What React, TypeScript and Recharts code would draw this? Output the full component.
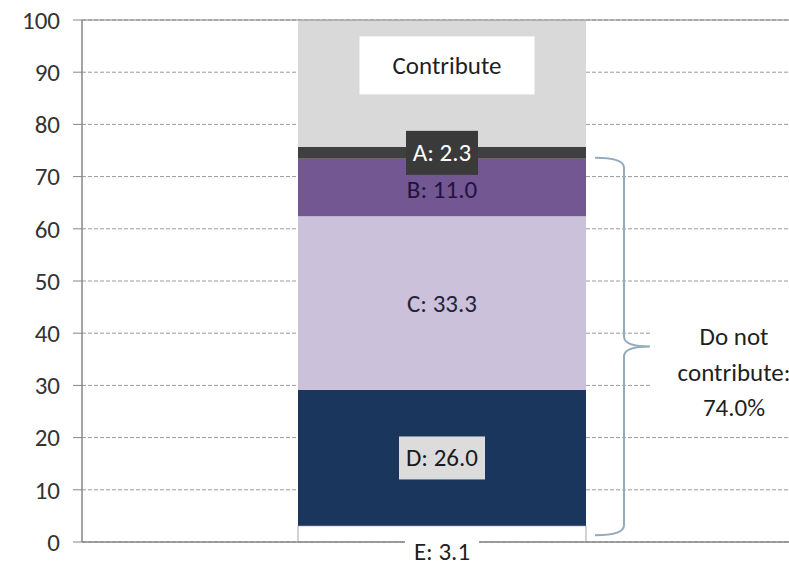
import { BarChart, Bar, XAxis, YAxis, CartesianGrid, ReferenceLine, ReferenceArea, LabelList } from "recharts"

const categories = [""]
const segments = ["E", "D", "C", "B", "A", "Contribute"]
const shares = [3.1, 26.0, 33.3, 11.0, 2.3, 24.3]
const yTicks = [0, 10, 20, 30, 40, 50, 60, 70, 80, 90, 100]
const braceRange = [1.3, 73.6]
const braceLines = ["Do not", "contribute:", "74.0%"]

const data = categories.map((c) => {
  const row: any = { group: c }
  segments.forEach((s, i) => { row[s] = shares[i] })
  return row
})

const FONT = "Carlito, Lato, sans-serif"
const FS = 25
const AXIS = "#868686"

const fills: Record<string, string> = {
  E: "#ffffff",
  D: "#1b365d",
  C: "#ccc1da",
  B: "#725792",
  A: "#404040",
  Contribute: "#d9d9d9"
}

// label look per segment
const labelLook: Record<string, any> = {
  E: { color: "#1f1f1f", box: "#ffffff", w: 74, h: 24, below: true },
  D: { color: "#1a1a1a", box: "#dcdcdc", w: 86, h: 43 },
  C: { color: "#24243a" },
  B: { color: "#22133d", dy: 2 },
  A: { color: "#ffffff", box: "#3a3a3a", w: 72, h: 44 },
  Contribute: { color: "#1f1f1f", box: "#ffffff", w: 175, h: 58, dy: -18, dx: 5 }
}

function segmentLabel(i: number) {
  const name = segments[i]
  const look = labelLook[name]
  return (props: any) => {
    const vb = props.viewBox ?? props
    const x = Number(vb.x), y = Number(vb.y), w = Number(vb.width), h = Number(vb.height)
    const top = Math.min(y, y + h)
    const bottom = Math.max(y, y + h)
    const cx = x + w / 2 + (look.dx ?? 0)
    const cy = look.below ? bottom + 9 : (top + bottom) / 2 + (look.dy ?? 0)
    const text = name === "Contribute" ? name : `${name}: ${shares[i].toFixed(1)}`
    return (
      <g>
        {look.box && (
          <rect x={cx - look.w / 2} y={cy - look.h / 2} width={look.w} height={look.h} fill={look.box} />
        )}
        <text x={cx} y={cy} textAnchor="middle" dominantBaseline="central" fill={look.color}
          fontSize={FS} fontFamily={FONT}>
          {text}
        </text>
      </g>
    )
  }
}

function Brace(props: any) {
  const { x, y, width, height } = props
  const top = Math.min(y, y + height)
  const bot = Math.max(y, y + height)
  const mid = (top + bot) / 2
  const x0 = x + width * 0.7 + 9
  const x1 = x0 + 29
  const x2 = x0 + 55
  const r = 10
  const d = `M ${x0} ${top} Q ${x1} ${top} ${x1} ${top + r} L ${x1} ${mid - r} Q ${x1} ${mid} ${x2} ${mid}` +
    ` Q ${x1} ${mid} ${x1} ${mid + r} L ${x1} ${bot - r} Q ${x1} ${bot} ${x0} ${bot}`
  const tx = x0 + 139
  return (
    <g>
      <path d={d} fill="none" stroke="#93abbb" strokeWidth={2} />
      <rect x={x2 + 2} y={mid - 30} width={200} height={112} fill="#ffffff" />
      {braceLines.map((t, k) => (
        <text key={k} x={tx} y={mid - 10 + k * 35.5} textAnchor="middle" dominantBaseline="central"
          fill="#1f1f1f" fontSize={FS} fontFamily={FONT}>
          {t}
        </text>
      ))}
    </g>
  )
}

export default function App() {
  return (
    <div style={{ position: "absolute", left: 0, top: 0, width: 789, height: 563, overflow: "hidden", background: "#fff", fontFamily: FONT }}>
      <BarChart width={830} height={563} data={data} margin={{ top: 20, right: 28, bottom: 20, left: 0 }} barCategoryGap="30%">
        <CartesianGrid vertical={false} stroke="#9a9a9a" strokeDasharray="4 2" />
        <ReferenceLine y={100} stroke={AXIS} strokeWidth={1} />
        <XAxis dataKey="group" height={1} tick={false} tickLine={false} axisLine={{ stroke: AXIS, strokeWidth: 1.5 }} />
        <YAxis
          width={82}
          domain={[0, 100]}
          ticks={yTicks}
          interval={0}
          tickSize={9}
          tickMargin={13}
          axisLine={{ stroke: AXIS, strokeWidth: 1.5 }}
          tickLine={{ stroke: AXIS }}
          tick={{ fill: "#333333", fontSize: FS, fontFamily: FONT }}
          allowDataOverflow
        />
        {segments.map((s, i) => (
          <Bar key={s} dataKey={s} stackId="share" fill={fills[s]}
            stroke={s === "E" ? "#a6a6a6" : "none"} strokeWidth={1}
            isAnimationActive={false}>
            <LabelList content={segmentLabel(i)} />
          </Bar>
        ))}
        <ReferenceArea y1={braceRange[0]} y2={braceRange[1]} ifOverflow="visible" shape={<Brace />} />
      </BarChart>
    </div>
  )
}
